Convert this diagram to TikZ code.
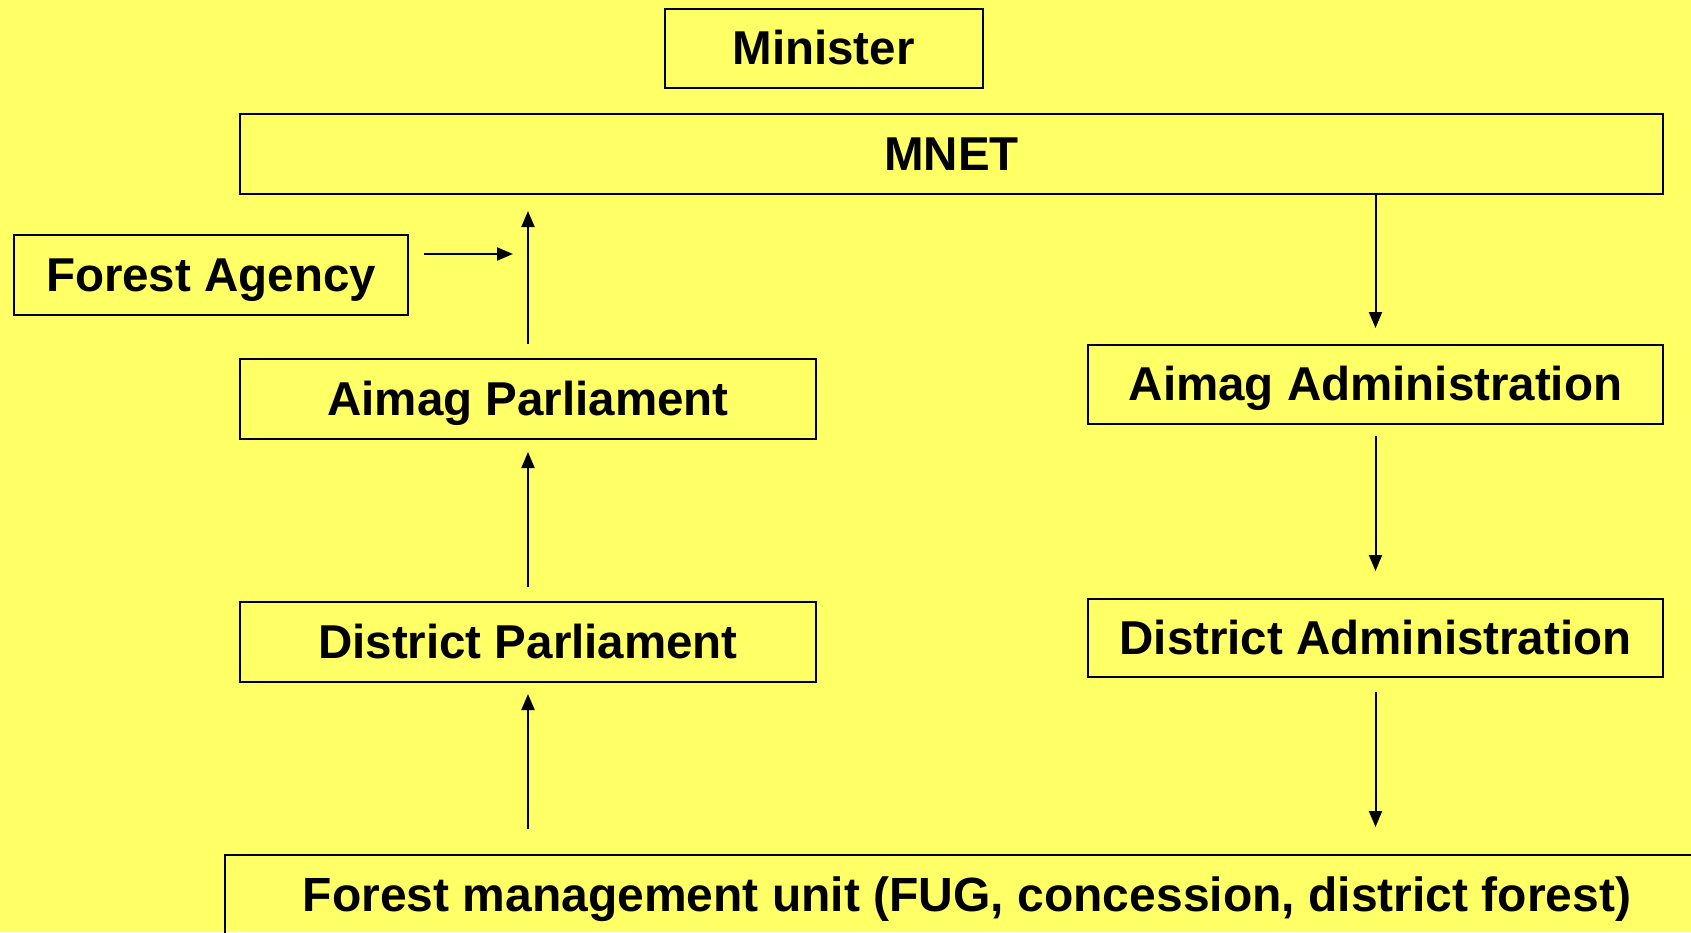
\documentclass[tikz,border=0pt]{standalone}
\usepackage{fontspec}
\setmainfont{Liberation Sans}
\usetikzlibrary{arrows.meta}
\definecolor{bgyellow}{RGB}{255,255,102}
\begin{document}
\begin{tikzpicture}[x=1pt,y=-1pt,
  box/.style={draw=black,line width=2pt,rectangle,inner sep=0pt,
    text height=32pt,text depth=0pt,
    font=\fontsize{47.5}{57}\selectfont\bfseries},
  arr/.style={line width=2pt,-{Triangle[length=16pt,width=13pt]}}]
\fill[bgyellow] (0,0) rectangle (1691,932);
\useasboundingbox (0,0) rectangle (1691,932);
\node[box,minimum width=318pt,minimum height=79pt] (min) at (823.5,48) {Minister};
\node[box,minimum width=1423pt,minimum height=80pt] (mnet) at (951.5,154) {MNET};
\node[box,minimum width=394pt,minimum height=80pt] (fa) at (211,275) {Forest Agency};
\node[box,minimum width=576pt,minimum height=80pt] (ap) at (528,399) {Aimag Parliament};
\node[box,minimum width=576pt,minimum height=80pt] (dp) at (528,642) {District Parliament};
\node[box,minimum width=575pt,minimum height=79pt] (aa) at (1375.5,384.5) {Aimag Administration};
\node[box,minimum width=575pt,minimum height=78pt] (da) at (1375.5,638) {District Administration};
\node[box,minimum width=1484pt,minimum height=80pt,font=\fontsize{48}{57}\selectfont\bfseries] (fmu) at (967,895) {Forest management unit (FUG, concession, district forest)};
\coordinate (faend) at (513,254);
% left column, upward
\draw[arr] ([yshift=25pt]fmu.north -| dp.south) -- ([yshift=-11pt]dp.south);
\draw[arr] ([yshift=14pt]dp.north) -- ([yshift=-12pt]ap.south);
\draw[arr] ([yshift=14pt]ap.north) -- ([yshift=-16pt]ap.north |- mnet.south);
\draw[arr] ([xshift=15pt,yshift=21pt]fa.east) -- (faend);
% right column, downward
\draw[arr] (aa.north |- mnet.south) -- ([yshift=16pt]aa.north);
\draw[arr] ([yshift=-11pt]aa.south) -- ([yshift=27pt]da.north);
\draw[arr] ([yshift=-14pt]da.south) -- ([yshift=27pt]da.south |- fmu.north);
\end{tikzpicture}
\end{document}
